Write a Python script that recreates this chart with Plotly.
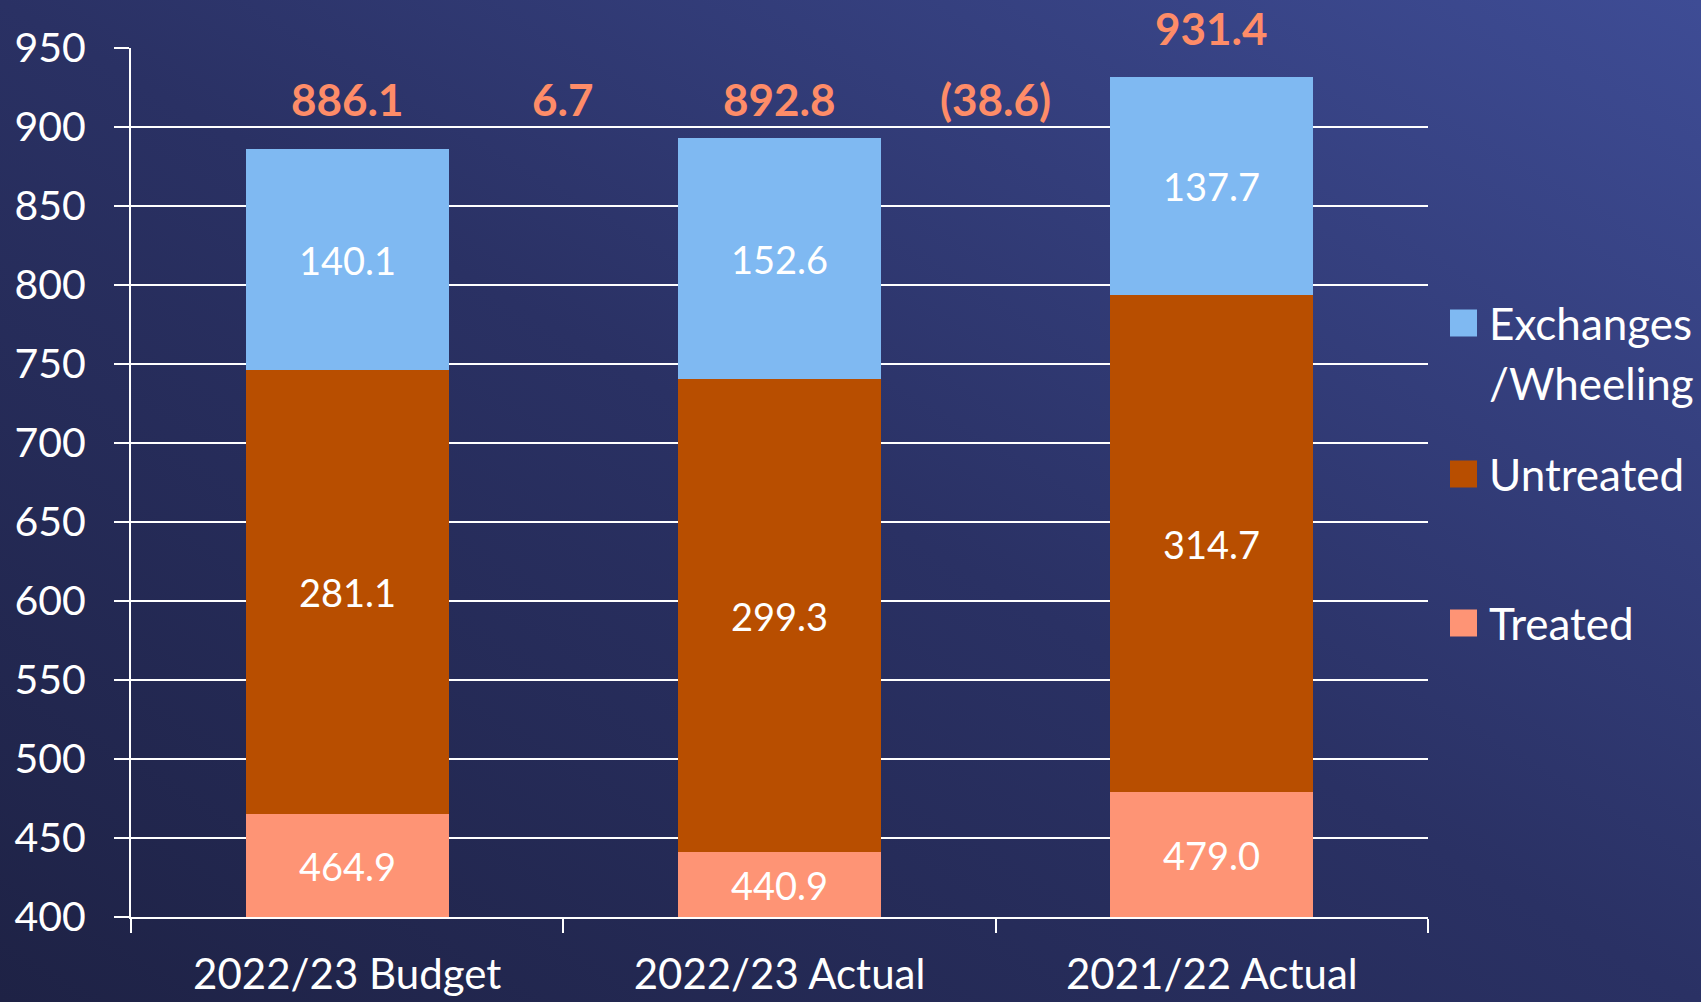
import plotly.graph_objects as go

categories = ["2022/23 Budget", "2022/23 Actual", "2021/22 Actual"]
treated = [464.9, 440.9, 479.0]
untreated = [281.1, 299.3, 314.7]
exchanges = [140.1, 152.6, 137.7]

C_TREATED = "#fe9475"
C_UNTREATED = "#b84e00"
C_EXCH = "#7fb9f2"
C_LABEL = "#fe8c68"
FONT = "Lato"

Y_MIN, Y_MAX = 400, 950
LABEL_ROW = 918

W, H = 1701, 1002
ML, MR, MT, MB = 131, 273, 48, 85
PW, PH = W - ML - MR, H - MT - MB

totals = [round(a + b + c, 1) for a, b, c in zip(treated, untreated, exchanges)]
diffs = [round(totals[1] - totals[0], 1), round(totals[1] - totals[2], 1)]


def val_to_paper(v):
    return (v - Y_MIN) / (Y_MAX - Y_MIN)


fig = go.Figure()
for name, vals, col in [("Treated", treated, C_TREATED),
                        ("Untreated", untreated, C_UNTREATED),
                        ("Exchanges/Wheeling", exchanges, C_EXCH)]:
    fig.add_trace(go.Bar(x=categories, y=vals, name=name, marker_color=col,
                         marker_line_width=0, showlegend=False))

ann = []
# segment labels centred on the visible part of each segment
for i, cat in enumerate(categories):
    lo = 0
    for vals in (treated, untreated, exchanges):
        hi = lo + vals[i]
        mid = (max(lo, Y_MIN) + min(hi, Y_MAX)) / 2
        ann.append(dict(x=cat, y=mid, text=f"{vals[i]:.1f}", showarrow=False,
                        yanchor="middle",
                        font=dict(family=FONT, size=38, color="white")))
        lo = hi
    ty = totals[i] + 31 if totals[i] + 31 > Y_MAX else LABEL_ROW
    ann.append(dict(x=cat, xref="x", yref="paper", y=val_to_paper(ty), yanchor="middle",
                    text=f"{totals[i]:.1f}", showarrow=False,
                    font=dict(family=FONT, size=44, color=C_LABEL, weight="bold")))
for j, d in enumerate(diffs):
    txt = f"{d:.1f}" if d >= 0 else f"({abs(d):.1f})"
    ann.append(dict(x=j + 0.5, xref="x", yref="paper", y=val_to_paper(LABEL_ROW),
                    yanchor="middle", text=txt, showarrow=False,
                    font=dict(family=FONT, size=44, color=C_LABEL, weight="bold")))


# legend drawn manually (large square swatches)
def px_x(px):
    return (px - ML) / PW


def px_y(py):
    return (H - MB - py) / PH


shapes = []
legend_items = [(C_EXCH, ["Exchanges", "/Wheeling"], 323),
                (C_UNTREATED, ["Untreated"], 474),
                (C_TREATED, ["Treated"], 623)]
for col, lines, cy in legend_items:
    shapes.append(dict(type="rect", xref="paper", yref="paper",
                       x0=px_x(1450), x1=px_x(1477), y0=px_y(cy + 13.5), y1=px_y(cy - 13.5),
                       fillcolor=col, line_width=0, layer="above"))
    for k, line in enumerate(lines):
        ann.append(dict(xref="paper", yref="paper", x=px_x(1487), y=px_y(cy + k * 60),
                        xanchor="left", yanchor="middle", text=line, showarrow=False,
                        font=dict(family=FONT, size=44, color="white")))

svg = ("data:image/svg+xml;utf8,"
       "<svg xmlns='http://www.w3.org/2000/svg' width='100' height='100' preserveAspectRatio='none'>"
       "<defs><linearGradient id='g' x1='0' y1='1' x2='1' y2='0'>"
       "<stop offset='0' stop-color='%231e2245'/>"
       "<stop offset='0.5' stop-color='%232a3164'/>"
       "<stop offset='1' stop-color='%233e4c95'/>"
       "</linearGradient></defs>"
       "<rect width='100' height='100' fill='url(%23g)'/></svg>")

fig.update_layout(
    width=W, height=H, autosize=False,
    margin=dict(l=ML, r=MR, t=MT, b=MB, autoexpand=False),
    barmode="stack", bargap=0.53,
    paper_bgcolor="#23294f", plot_bgcolor="rgba(0,0,0,0)",
    font=dict(family=FONT, color="white"),
    images=[dict(source=svg, xref="paper", yref="paper",
                 x=-ML / PW, y=1 + MT / PH, sizex=W / PW, sizey=H / PH,
                 xanchor="left", yanchor="top", sizing="stretch", layer="below")],
    annotations=ann, shapes=shapes,
    showlegend=False,
)
fig.update_xaxes(type="category", showline=True, linecolor="white", linewidth=2,
                 ticks="outside", tickson="boundaries", ticklen=14, tickwidth=2,
                 tickcolor="white", showgrid=False, ticklabelstandoff=20,
                 automargin=False,
                 tickfont=dict(family=FONT, size=42, color="white"))
fig.update_yaxes(range=[Y_MIN, Y_MAX], dtick=50, showline=True, linecolor="white",
                 linewidth=2, ticks="outside", ticklen=15, tickwidth=2, tickcolor="white",
                 showgrid=True, gridcolor="white", gridwidth=2, zeroline=False,
                 ticklabelstandoff=20, automargin=False,
                 tickfont=dict(family=FONT, size=41, color="white"))

fig.write_html("out.html", config={"displayModeBar": False},
               post_script="document.body.style.margin='0';document.body.style.overflow='hidden';")
